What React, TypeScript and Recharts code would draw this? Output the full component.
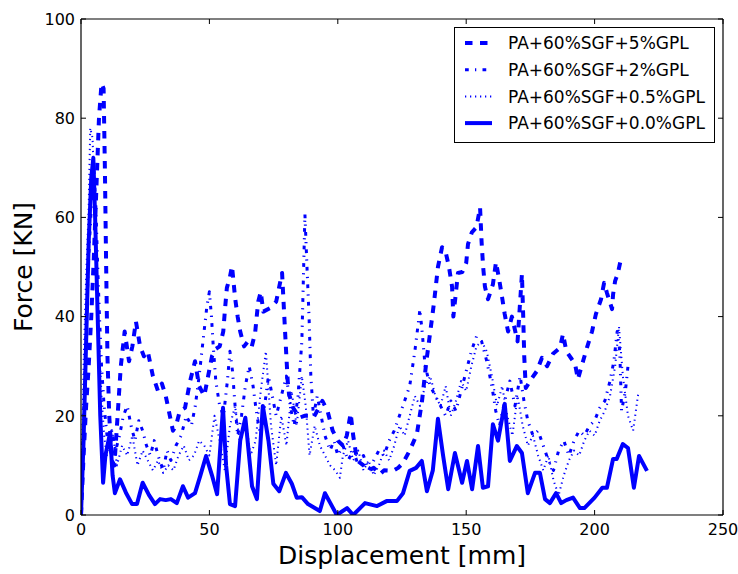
import React from 'react';
import { LineChart, Line, XAxis, YAxis, Legend } from 'recharts';

const xTicks = [0, 50, 100, 150, 200, 250];
const yTicks = [0, 20, 40, 60, 80, 100];

const seriesNames = [
  'PA+60%SGF+5%GPL',
  'PA+60%SGF+2%GPL',
  'PA+60%SGF+0.5%GPL',
  'PA+60%SGF+0.0%GPL',
];

// [displacement mm, force kN]
const gpl5: [number, number][] = [
  [0, 0], [1, 12], [2, 22], [3, 30], [4, 40], [5, 52], [6, 66], [7, 80], [8, 87], [8.8, 86],
  [9.3, 70], [9.8, 50], [10.3, 32], [11, 20], [12, 11], [13, 10], [14, 18], [15.5, 30], [17, 37],
  [18.7, 31], [20, 34], [21.4, 39], [23, 34], [24.5, 32], [26, 33], [28, 28], [30, 25], [31.5, 26.5],
  [33, 24], [35.8, 17], [37, 18], [38.5, 21], [40.5, 21.6], [42.5, 27], [44.4, 31], [46, 26], [48, 24],
  [49.5, 28], [51, 32], [52.5, 33.5], [54, 34], [55.4, 37], [56, 41], [56.8, 45.8], [58, 48], [58.8, 50.2],
  [60, 43.8], [61, 40], [62, 37], [63.5, 34], [65, 35], [66.5, 34], [67.8, 36.7], [69, 43], [70, 45],
  [71, 41], [73.6, 41.7], [76, 43], [78.3, 48.8], [79.4, 37.7], [80, 31.7], [80.5, 27], [81, 24.4],
  [82.6, 21.6], [84, 20.5], [85, 19.6], [87, 20], [88.5, 20], [90.5, 19.6], [92, 21], [94, 23], [96, 21],
  [98, 17], [100, 15], [102, 14], [103.5, 16], [105, 20.5], [106, 16], [107.5, 11], [110, 10], [112, 9],
  [114, 9.5], [116.4, 8.2], [118, 9], [121.5, 8.9], [123.5, 9.5], [125.4, 10.5], [128, 13], [130.8, 16.3],
  [132.8, 23], [134.5, 31], [136.7, 39.7], [137.5, 43], [139, 50], [140.6, 54], [142, 53], [143.3, 50],
  [144.5, 46], [145, 40], [146.8, 48.8], [148.5, 49], [150, 50.8], [150.7, 54.6], [152.2, 57], [154, 58],
  [155.4, 62], [156, 55], [156.6, 50], [157.3, 46], [158.5, 43.5], [160.4, 46.5], [161.6, 51], [162.8, 47.6],
  [164, 43.8], [165, 40.5], [166.3, 37], [167.8, 40], [170, 35], [171.7, 48.6], [172.2, 40], [172.6, 32],
  [173.2, 25.6], [175.6, 27.6], [177.5, 29], [179.5, 31.7], [181.5, 30], [183.8, 32.5], [186.5, 33.7],
  [187.7, 36.5], [189, 33], [191, 31.5], [192.4, 30.4], [193.5, 27.4], [195.5, 31], [197, 33.7], [199, 37],
  [200.5, 40.5], [202.5, 43.5], [203.7, 46.8], [204.8, 44.8], [206.8, 41.5], [207.2, 44.5], [208, 47.2],
  [209, 48.6], [210, 51],
];

const gpl2: [number, number][] = [
  [0, 0], [1, 20], [2, 38], [3, 52], [4, 62], [5, 70], [5.8, 62], [6.5, 50], [7.2, 40], [8, 30], [9, 22],
  [10.5, 14], [12, 17], [13.5, 13], [15, 16], [16.5, 20], [18, 22], [19.5, 18], [21, 15], [22.5, 19],
  [24, 17], [25.5, 14], [27, 12], [28.5, 15], [30, 12], [32, 9], [33.5, 13], [35, 11], [37, 14], [39, 16],
  [41, 20], [43, 18], [44.5, 22], [46, 28], [47.5, 35], [49, 42], [50, 45], [50.8, 40], [51.5, 34],
  [52.5, 27], [54, 22], [55.5, 20], [57, 27], [58, 33], [59, 29], [60, 22], [61, 16], [62.5, 20], [64, 26],
  [65.5, 30], [67, 26], [68.5, 20], [70, 16], [71.5, 22], [73, 28], [74.5, 24], [76, 20], [78, 24],
  [80, 28], [81.5, 22], [83, 18], [84.5, 24], [86, 35], [87.2, 60.6], [88, 50], [88.8, 40], [89.5, 28],
  [90.5, 20], [92, 24], [93.5, 20], [95, 16], [97, 13], [98.5, 15], [100, 12], [102, 14], [104, 11],
  [106, 13], [108, 10], [110, 12], [112, 9], [114, 11], [116, 13], [118, 12], [120, 15], [122, 17],
  [124, 20], [126, 23], [128, 26], [130, 33], [132, 41.5], [133, 36], [134, 30], [136, 26], [138, 24],
  [140, 22], [142, 20], [144, 23], [146, 21], [148, 25], [150, 29], [152, 33], [154, 36], [156, 35],
  [158, 31], [160, 26], [161.5, 21], [163, 18], [165, 23], [167, 27], [169, 22], [171, 28], [172.5, 23],
  [174, 19], [176, 16], [178, 17], [180, 14], [182, 11], [184, 9], [186, 13], [188, 15], [190, 12],
  [192, 15], [194, 17], [196, 16], [198, 18], [200, 19], [202, 21.6], [204, 23], [206, 27], [207.5, 31],
  [208.8, 37], [209.8, 33], [210.5, 21], [212, 25], [213, 30],
];

const gpl05: [number, number][] = [
  [0, 0], [1, 30], [2, 48], [3, 62], [3.6, 78], [4.5, 76], [5.2, 65], [6, 50], [7, 35], [8, 24], [9, 16],
  [10, 12], [11, 13], [12.5, 16], [14, 10], [16, 14], [18, 12], [20, 16], [22, 10], [24, 13], [26, 11],
  [28, 9], [30, 11], [32, 8.5], [34, 10], [36, 9], [38, 12], [40, 14], [42, 11], [44, 12], [46, 15],
  [48, 14], [50, 12], [52, 20], [54, 15], [56, 9], [58, 18], [60, 22], [62, 14], [64, 20], [66, 12],
  [68, 15], [70, 25], [72, 33], [74, 18], [76, 10], [78, 20], [80, 14], [82, 25], [84, 18], [86, 28],
  [87.5, 22], [89, 12], [91, 18], [93, 14], [95, 12], [97, 10], [99, 9], [100.8, 7.5], [102, 12],
  [104, 15], [106, 11], [108, 13], [110, 9], [112, 11], [114, 8], [116, 10], [118, 13], [120, 11],
  [122, 14], [124, 18], [126, 16], [128, 20], [130, 24], [132, 22], [134, 26], [136, 28], [138, 24],
  [140, 22], [142, 26], [144, 20], [146, 23], [148, 27], [150, 25], [152, 30], [154, 34], [156, 35],
  [158, 33], [160, 28], [162, 22], [164, 26], [166, 20], [168, 16], [170, 24], [172, 18], [174, 14],
  [176, 16], [178, 12], [180, 9], [182, 12], [184, 7], [186, 4], [188, 8], [190, 11], [192, 13],
  [194, 12], [196, 15], [198, 17], [200, 16], [202, 19], [204, 21], [206, 24], [208, 30], [209.5, 38],
  [211, 28], [213, 20], [215, 17], [217, 24.5],
];

const gpl0: [number, number][] = [
  [0, 0], [1, 15], [2, 35], [3, 55], [4, 68], [4.8, 72], [5.5, 60], [6.5, 40], [7.5, 20], [8.6, 6.5],
  [9.5, 12], [11.3, 16.5], [12.3, 8], [13.2, 4.4], [15.2, 7.2], [17.5, 4.5], [19.9, 2.2], [21.8, 2.2],
  [24, 6.5], [26.5, 4], [28.8, 2.2], [30.8, 3.2], [33, 3], [35, 3.2], [37.3, 2.4], [39.7, 5.8],
  [41.7, 3.5], [44.4, 4.4], [46.5, 8], [48.7, 11.9], [51, 8], [53, 4.2], [55.3, 21.6], [56.5, 10],
  [58, 2.2], [60, 1.8], [62, 15], [64, 19.6], [66.6, 5.8], [68.5, 3.2], [70.8, 22], [73, 15], [74.9, 6.3],
  [77.2, 4.8], [79.8, 8.5], [82.1, 6.3], [84, 3.5], [86, 3.6], [88.4, 2.2], [93, 0.8], [95, 4.4],
  [97, 2.5], [99.6, 0], [103.6, 1.4], [106, 0], [110.6, 2.4], [115.3, 1.8], [119, 2.8], [123, 2.8],
  [125.4, 4.4], [128, 8.9], [130.5, 9.5], [132.7, 10.9], [134.7, 4.8], [137, 9], [139, 19.4], [141, 12],
  [143, 5.2], [145.6, 12.5], [148.4, 6.5], [150.3, 10.9], [152.3, 5.2], [154.6, 13.9], [156.5, 5.5],
  [158.5, 5.8], [160.4, 18.3], [162.4, 15], [165, 22.4], [167, 10.9], [169.7, 13.9], [171.7, 12.5],
  [174, 4.4], [176.8, 8.5], [178.7, 8.5], [180.7, 3.2], [182.6, 2.4], [185, 4.4], [187, 2.4], [189, 3],
  [191.6, 3.5], [194.3, 1.4], [196, 1.4], [200, 3.5], [203, 5.5], [204.8, 5.5], [207.2, 11.3],
  [208.6, 11.3], [211, 14.3], [213, 13.5], [215.3, 5.5], [217.3, 11.9], [220.4, 8.9],
];

const toRows = (pts: [number, number][]) => pts.map(([x, y]) => ({ x, y }));

const BLUE = '#0000ff';
const FONT = 'DejaVu Sans';

const styles = [
  { width: 4, dash: '7.5 7.5' },
  { width: 3, dash: '3.75 6.25 1.25 6.25' },
  { width: 2, dash: '1.25 3.75' },
  { width: 4, dash: undefined as string | undefined },
];

const seriesData = [gpl5, gpl2, gpl05, gpl0];

const XTick = (props: any) => {
  const { x, y, payload } = props;
  return (
    <text x={x} y={y} textAnchor="middle" fontSize={16} fontFamily={FONT} fill="#000">
      {payload.value}
    </text>
  );
};

const YTick = (props: any) => {
  const { x, y, payload } = props;
  return (
    <text x={x} y={y} dy="0.36em" textAnchor="end" fontSize={16} fontFamily={FONT} fill="#000">
      {payload.value}
    </text>
  );
};

const LegendBox = () => (
  <div
    style={{
      width: 261,
      height: 116,
      border: '1px solid #000',
      background: '#fff',
      boxSizing: 'border-box',
    }}
  >
    <svg width={259} height={114} style={{ display: 'block' }}>
      {seriesNames.map((name, i) => {
        const cy = 15 + i * 26.7;
        return (
          <g key={name}>
            <line
              x1={10}
              x2={37}
              y1={cy}
              y2={cy}
              stroke={BLUE}
              strokeWidth={styles[i].width}
              strokeDasharray={styles[i].dash}
            />
            <text x={53} y={cy} dy="0.36em" fontSize={17} fontFamily={FONT} fill="#000">
              {name}
            </text>
          </g>
        );
      })}
    </svg>
  </div>
);

const axisLine = { stroke: '#000', strokeWidth: 1.2 };
const tickLine = { stroke: '#000', strokeWidth: 1 };

export default function App() {
  return (
    <div style={{ position: 'absolute', left: 0, top: 0, width: 738, height: 574, background: '#fff' }}>
      <LineChart width={738} height={574} margin={{ top: 18, right: 14, bottom: 0, left: 0 }}>
        <XAxis
          xAxisId="b"
          type="number"
          dataKey="x"
          domain={[0, 250]}
          ticks={xTicks}
          interval={0}
          allowDataOverflow
          orientation="bottom"
          height={59}
          tickSize={-5}
          tickMargin={25}
          axisLine={axisLine}
          tickLine={tickLine}
          tick={XTick}
          label={{
            value: 'Displacement [mm]',
            position: 'insideBottom',
            offset: 10,
            style: { fontSize: 25, fontFamily: FONT, fill: '#000' },
          }}
        />
        <XAxis
          xAxisId="t"
          type="number"
          dataKey="x"
          domain={[0, 250]}
          ticks={xTicks}
          interval={0}
          allowDataOverflow
          orientation="top"
          height={1}
          tickSize={-5}
          axisLine={axisLine}
          tickLine={tickLine}
          tickFormatter={() => ''}
        />
        <YAxis
          yAxisId="l"
          type="number"
          domain={[0, 100]}
          ticks={yTicks}
          interval={0}
          allowDataOverflow
          orientation="left"
          width={81}
          tickSize={-5}
          tickMargin={11}
          axisLine={axisLine}
          tickLine={tickLine}
          tick={YTick}
          label={{
            value: 'Force [KN]',
            angle: -90,
            position: 'insideLeft',
            offset: 23,
            style: { fontSize: 25, fontFamily: FONT, fill: '#000', textAnchor: 'middle' },
          }}
        />
        <YAxis
          yAxisId="r"
          type="number"
          domain={[0, 100]}
          ticks={yTicks}
          interval={0}
          allowDataOverflow
          orientation="right"
          width={1}
          tickSize={-5}
          axisLine={axisLine}
          tickLine={tickLine}
          tickFormatter={() => ''}
        />
        {seriesData.map((pts, i) => (
          <Line
            key={seriesNames[i]}
            xAxisId="b"
            yAxisId="l"
            data={toRows(pts)}
            dataKey="y"
            name={seriesNames[i]}
            type="linear"
            stroke={BLUE}
            strokeWidth={styles[i].width}
            strokeDasharray={styles[i].dash}
            strokeLinejoin="round"
            dot={false}
            activeDot={false}
            isAnimationActive={false}
          />
        ))}
        <Legend
          layout="horizontal"
          verticalAlign="middle"
          align="center"
          wrapperStyle={{ left: 454, top: 27, width: 261, height: 116 }}
          content={() => <LegendBox />}
        />
      </LineChart>
    </div>
  );
}
